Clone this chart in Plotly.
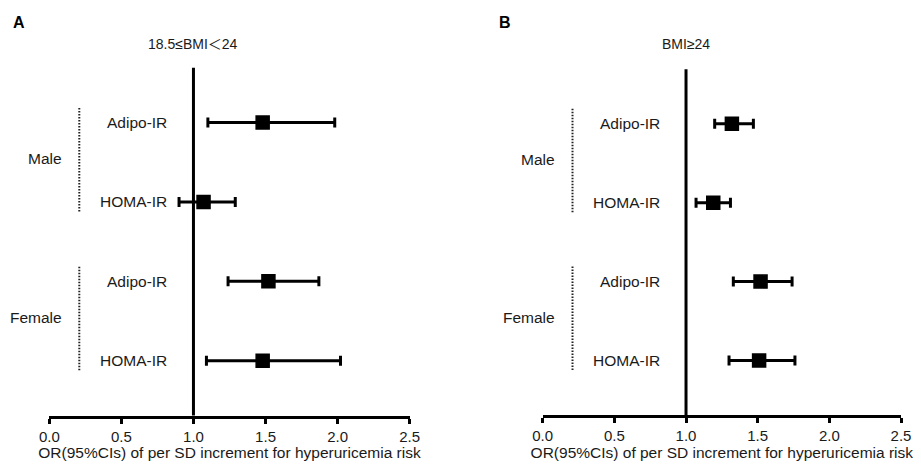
import plotly.graph_objects as go
from plotly.subplots import make_subplots

# ---- data ----
rows = ["Adipo-IR", "HOMA-IR", "Adipo-IR", "HOMA-IR"]
row_pos = [4, 3, 2, 1]
groups = ["Male", "Female"]
group_pos = [3.5, 1.5]

a_title = "18.5≤BMI＜24"
a_or = [1.48, 1.07, 1.52, 1.48]
a_lo = [1.10, 0.90, 1.24, 1.09]
a_hi = [1.98, 1.29, 1.87, 2.02]

b_title = "BMI≥24"
b_or = [1.32, 1.19, 1.52, 1.51]
b_lo = [1.20, 1.07, 1.33, 1.30]
b_hi = [1.47, 1.31, 1.74, 1.76]

tick_vals = [0.0, 0.5, 1.0, 1.5, 2.0, 2.5]
tick_text = ["0.0", "0.5", "1.0", "1.5", "2.0", "2.5"]
x_title = "OR(95%CIs) of per SD increment for hyperuricemia risk"

FONT = "Liberation Sans, Arial, Noto Sans CJK SC, sans-serif"
TXT = "#1a1a1a"

# page body adds an 8px offset; lay out in page pixels and convert
OFF = 8
W, H = 921 - OFF, 465 - OFF


def fx(px):
    return (px - OFF) / W


def fy(py):
    return 1 - (py - OFF) / H


fig = make_subplots(rows=1, cols=2)

panels = [
    (1, "x", "y", a_or, a_lo, a_hi, a_title),
    (2, "x2", "y2", b_or, b_lo, b_hi, b_title),
]

for col, xr, yr, orv, lo, hi, title in panels:
    plus = [h - o for h, o in zip(hi, orv)]
    minus = [o - l for o, l in zip(orv, lo)]
    fig.add_trace(
        go.Scatter(
            x=orv, y=row_pos, mode="markers",
            marker=dict(symbol="square", size=13, color="black",
                        line=dict(color="black", width=1.5)),
            error_x=dict(type="data", symmetric=False, array=plus,
                         arrayminus=minus, color="black", thickness=3, width=5),
            showlegend=False, hoverinfo="skip",
        ),
        row=1, col=col,
    )
    # reference line at OR = 1
    fig.add_shape(type="line", xref=xr, yref=yr + " domain", x0=1, x1=1,
                  y0=0, y1=1, line=dict(color="black", width=3))
    # row labels
    for name, yp in zip(rows, row_pos):
        fig.add_annotation(xref=xr, yref=yr, x=0.83, y=yp, text=name,
                           showarrow=False, xanchor="right", yanchor="middle",
                           font=dict(family=FONT, size=15.5, color=TXT))
    # group labels and dotted brackets
    for g, gp in zip(groups, group_pos):
        fig.add_annotation(xref=xr, yref=yr, x=0.1, y=gp + 0.05, text=g,
                           showarrow=False, xanchor="right", yanchor="middle",
                           font=dict(family=FONT, size=15.5, color=TXT))
        fig.add_shape(type="line", xref=xr, yref=yr, x0=0.208, x1=0.208,
                      y0=gp - 0.62, y1=gp + 0.7,
                      line=dict(color="#222222", width=2, dash="1.5px,1.5px"))
    # panel titles
    fig.add_annotation(xref=xr, yref="paper", x=1.0, y=fy(44), text=title,
                       showarrow=False, xanchor="center", yanchor="middle",
                       font=dict(family=FONT, size=14, color=TXT))

fig.add_annotation(xref="paper", yref="paper", x=fx(11), y=fy(22.5),
                   text="<b>A</b>", showarrow=False, xanchor="left",
                   yanchor="middle", font=dict(family=FONT, size=16, color="black"))
fig.add_annotation(xref="paper", yref="paper", x=fx(497), y=fy(22.5),
                   text="<b>B</b>", showarrow=False, xanchor="left",
                   yanchor="middle", font=dict(family=FONT, size=16, color="black"))

xaxis_common = dict(
    range=[0, 2.5], tickvals=tick_vals, ticktext=tick_text,
    showline=True, linewidth=3, linecolor="black",
    ticks="outside", ticklen=5, tickwidth=3, tickcolor="black",
    showgrid=False, zeroline=False, automargin=False,
    tickfont=dict(family=FONT, size=15, color=TXT),
    title=dict(text=x_title, font=dict(family=FONT, size=15.5, color=TXT), standoff=4),
)
yaxis_common = dict(range=[0.31, 4.69], visible=False, showgrid=False,
                    zeroline=False, automargin=False)

fig.update_layout(
    width=W, height=H,
    margin=dict(l=0, r=0, t=0, b=0, autoexpand=False),
    paper_bgcolor="white", plot_bgcolor="white",
    xaxis=dict(domain=[fx(49.3), fx(409.7)], **xaxis_common),
    xaxis2=dict(domain=[fx(542.7), fx(901)], **xaxis_common),
    yaxis=dict(domain=[fy(415.5), fy(67.7)], **yaxis_common),
    yaxis2=dict(domain=[fy(415), fy(69.3)], **yaxis_common),
)

fig.write_html("out.html")
